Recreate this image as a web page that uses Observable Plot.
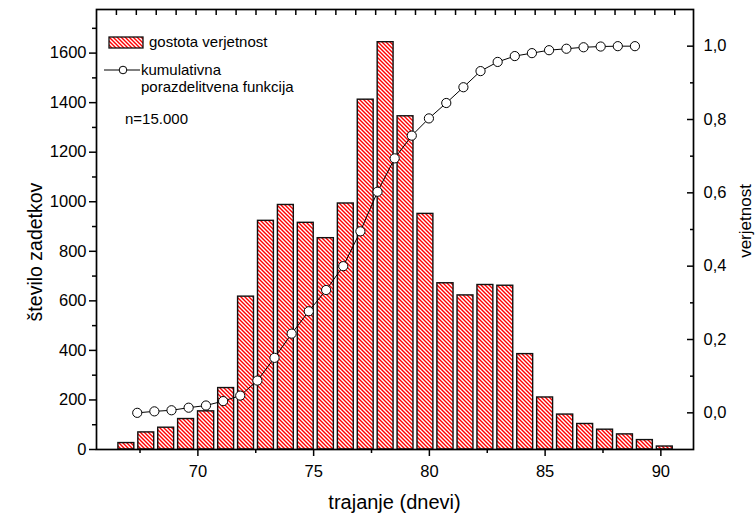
<!DOCTYPE html>
<html><head><meta charset="utf-8">
<script src="https://cdn.jsdelivr.net/npm/d3@7"></script>
<script src="https://cdn.jsdelivr.net/npm/@observablehq/plot@0.6"></script>
<style>body{margin:0;background:#fff} #chart{width:756px;height:518px}</style>
</head><body><div id="chart"></div>
<script>
// histogram bin edges (days) and counts
const binEdges = [66.48, 67.34, 68.20, 69.06, 69.92, 70.79, 71.65, 72.51, 73.37, 74.23, 75.09, 75.96, 76.82, 77.68, 78.54, 79.40, 80.26, 81.13, 81.99, 82.85, 83.71, 84.57, 85.43, 86.30, 87.16, 88.02, 88.88, 89.74, 90.60];
const counts = [26, 69, 88, 123, 154, 248, 617, 923, 987, 915, 853, 993, 1412, 1644, 1345, 951, 671, 622, 664, 661, 385, 210, 141, 103, 80, 61, 38, 12];
// cumulative distribution
const cdfX = [67.38, 68.12, 68.86, 69.60, 70.35, 71.09, 71.83, 72.57, 73.31, 74.05, 74.79, 75.54, 76.28, 77.02, 77.76, 78.50, 79.24, 79.98, 80.73, 81.47, 82.21, 82.95, 83.69, 84.43, 85.17, 85.92, 86.66, 87.40, 88.14, 88.88];
const cdfY = [0.000, 0.004, 0.007, 0.014, 0.020, 0.032, 0.047, 0.088, 0.150, 0.216, 0.277, 0.335, 0.400, 0.495, 0.603, 0.694, 0.756, 0.803, 0.845, 0.888, 0.932, 0.957, 0.973, 0.981, 0.989, 0.993, 0.997, 0.999, 1.000, 1.000];
// ticks
const xTicks = [70, 75, 80, 85, 90];
const xMinorTicks = [67.5, 72.5, 77.5, 82.5, 87.5];
const leftTicks = [0, 200, 400, 600, 800, 1000, 1200, 1400, 1600];
const leftMinorTicks = [100, 300, 500, 700, 900, 1100, 1300, 1500, 1700];
const rightTicks = [0, 0.2, 0.4, 0.6, 0.8, 1.0];
const rightTickLabels = ["0,0", "0,2", "0,4", "0,6", "0,8", "1,0"];
const rightMinorTicks = [0.1, 0.3, 0.5, 0.7, 0.9];

const leftDomain = [0, 1776];
const rightDomain = [-0.1, 1.1];
const xDomain = [65.62, 91.41];
const toLeft = d3.scaleLinear(rightDomain, leftDomain);

const bars = counts.map((c, i) => ({x1: binEdges[i], x2: binEdges[i + 1], count: c}));
const cdf = cdfX.map((x, i) => ({x, y: toLeft(cdfY[i])}));
const rightMap = new Map(rightTicks.map((t, i) => [toLeft(t), rightTickLabels[i]]));

const font = "'Liberation Sans', Arial, Helvetica, sans-serif";
const none = () => "";
const plain = d => String(d);

const plot = Plot.plot({
  width: 756, height: 518,
  marginLeft: 96, marginRight: 63, marginTop: 9, marginBottom: 69,
  style: {fontFamily: font, fontSize: "16.5px", background: "white", color: "black", overflow: "visible"},
  x: {domain: xDomain},
  y: {domain: leftDomain},
  marks: [
    Plot.rectY(bars, {x1: "x1", x2: "x2", y: "count", insetLeft: 2, insetRight: 2, fill: "url(#hatch)", stroke: "#111", strokeWidth: 1.4}),
    Plot.line(cdf, {x: "x", y: "y", stroke: "black", strokeWidth: 1}),
    Plot.dot(cdf, {x: "x", y: "y", r: 4.6, fill: "white", stroke: "black", strokeWidth: 1}),
    Plot.axisX(xTicks, {anchor: "bottom", tickSize: 7, tickPadding: 9, tickFormat: plain, label: null, strokeWidth: 1.5}),
    Plot.axisX(xMinorTicks, {anchor: "bottom", tickSize: 4, tickFormat: none, label: null, strokeWidth: 1.5}),
    Plot.axisX(binEdges, {anchor: "top", tickSize: -5, tickFormat: none, label: null, strokeWidth: 1.5}),
    Plot.axisY(leftTicks, {anchor: "left", tickSize: 7, tickPadding: 3, tickFormat: plain, label: null, strokeWidth: 1.5}),
    Plot.axisY(leftMinorTicks, {anchor: "left", tickSize: 4, tickFormat: none, label: null, strokeWidth: 1.5}),
    Plot.axisY(rightTicks.map(toLeft), {anchor: "right", tickSize: -7, tickFormat: none, label: null, strokeWidth: 1.5}),
    Plot.axisY(rightMinorTicks.map(toLeft), {anchor: "right", tickSize: -4, tickFormat: none, label: null, strokeWidth: 1.5}),
    Plot.axisY(rightTicks.map(toLeft), {anchor: "right", tickSize: 0, tickPadding: 10, tickFormat: v => rightMap.get(v), label: null}),
    Plot.frame({stroke: "black", strokeWidth: 1.7})
  ]
});

const svg = d3.select(plot);
const defs = svg.insert("defs", ":first-child");
const P = 4;
const pat = defs.append("pattern").attr("id", "hatch").attr("patternUnits", "userSpaceOnUse").attr("width", P).attr("height", P);
pat.append("rect").attr("width", P).attr("height", P).attr("fill", "white");
pat.append("path").attr("d", `M-1,-1L${P + 1},${P + 1}M${P - 1},-1L${P + 1},1M-1,${P - 1}L1,${P + 1}`).attr("stroke", "#ff0000").attr("stroke-width", 1.4);

// legend
const lg = svg.append("g").attr("font-family", font).attr("fill", "black").attr("text-anchor", "start");
lg.append("rect").attr("x", 109).attr("y", 37).attr("width", 34).attr("height", 11).attr("fill", "url(#hatch)").attr("stroke", "#111").attr("stroke-width", 1.3);
lg.append("text").attr("x", 149).attr("y", 47).attr("font-size", 15).text("gostota verjetnost");
lg.append("line").attr("x1", 104).attr("x2", 140).attr("y1", 70).attr("y2", 70).attr("stroke", "black").attr("stroke-width", 1);
lg.append("circle").attr("cx", 123).attr("cy", 70).attr("r", 3.8).attr("fill", "white").attr("stroke", "black");
lg.append("text").attr("x", 141).attr("y", 75).attr("font-size", 15).text("kumulativna");
lg.append("text").attr("x", 141).attr("y", 92).attr("font-size", 15).text("porazdelitvena funkcija");
lg.append("text").attr("x", 125).attr("y", 124).attr("font-size", 15).text("n=15.000");

// axis titles
const tg = svg.append("g").attr("font-family", font).attr("fill", "black").attr("text-anchor", "middle");
tg.append("text").attr("x", 394.5).attr("y", 509).attr("font-size", 20).text("trajanje (dnevi)");
tg.append("text").attr("transform", "translate(42,252) rotate(-90)").attr("font-size", 19.5).text("število zadetkov");
tg.append("text").attr("transform", "translate(751,221) rotate(-90)").attr("font-size", 17).text("verjetnost");

document.getElementById("chart").appendChild(plot);
</script>
</body></html>
